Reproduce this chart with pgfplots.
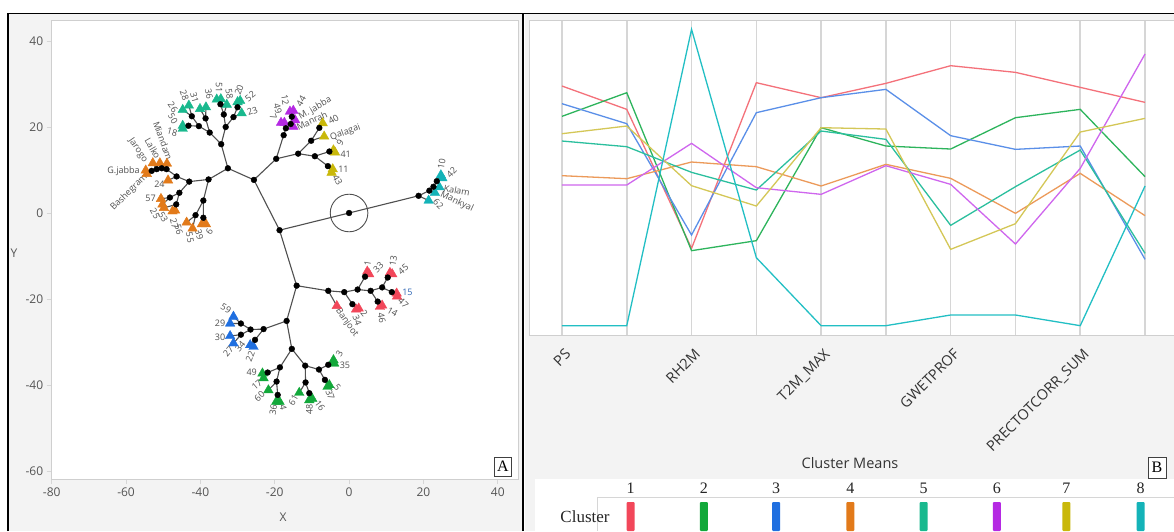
\documentclass[border=0pt]{standalone}
\usepackage{pgfplots}
\pgfplotsset{compat=1.18}
\usepackage{fontspec}
\setmainfont{Open Sans}
\newfontfamily\serif{Liberation Serif}
\definecolor{panelbg}{HTML}{F3F3F3}
\definecolor{framegrey}{HTML}{CFCFCF}
\definecolor{gridgrey}{HTML}{D6D6D6}
\definecolor{tickgrey}{HTML}{555555}
\definecolor{labgrey}{HTML}{505050}
\definecolor{edgegrey}{HTML}{505050}
\definecolor{c1}{HTML}{F2475A}
\definecolor{c2}{HTML}{12A83A}
\definecolor{c3}{HTML}{1F6FE0}
\definecolor{c4}{HTML}{E27A1A}
\definecolor{c5}{HTML}{19B98E}
\definecolor{c6}{HTML}{B529E3}
\definecolor{c7}{HTML}{C9B80A}
\definecolor{c8}{HTML}{14B3B8}
\definecolor{l1}{HTML}{F4717A}
\definecolor{l2}{HTML}{2DB45C}
\definecolor{l3}{HTML}{5A8FE8}
\definecolor{l4}{HTML}{EC9A5A}
\definecolor{l5}{HTML}{2BBF9E}
\definecolor{l6}{HTML}{CF66EE}
\definecolor{l7}{HTML}{D4C757}
\definecolor{l8}{HTML}{22BFC4}
\tikzset{lbl/.style={font=\fontsize{9}{10}\selectfont, text=labgrey, inner sep=0pt}}
\begin{document}
\begin{tikzpicture}[x=1pt,y=1pt]
\path[use as bounding box] (0,0) rectangle (1174,531);
\clip (0,0) rectangle (1174,531);
\fill[white] (0,0) rectangle (1174,531);
\fill[panelbg] (9,0) rectangle (522,517);
\fill[panelbg] (525,0) rectangle (1174,517);
\draw[black, line width=1.3pt] (8,0) -- (8,517.5) -- (1174,517.5);
\draw[black, line width=2pt] (523.3,0) -- (523.3,517.5);

% ---------------- Panel A ----------------
\begin{axis}[at={(51.7pt,52pt)}, anchor=south west, scale only axis,
  width=466.3pt, height=458.3pt,
  xmin=-80, xmax=45.45, ymin=-61.86, ymax=44.72,
  xtick={-80,-60,...,40}, ytick={-60,-40,...,40},
  tick pos=left, tick align=outside, major tick length=5pt,
  tick style={gridgrey, line width=0.8pt},
  axis line style={framegrey, line width=1pt},
  axis background/.style={fill=white},
  ticklabel style={font=\fontsize{12}{14}\selectfont, text=tickgrey},
  /pgf/number format/assume math mode=true,
  clip=false]
\addplot[edgegrey, line width=1.1pt, unbounded coords=jump, mark=none] coordinates {
(0,0) (18.7,4.0) (nan,nan) (18.7,4.0) (21.6,5.2) (nan,nan) (21.6,5.2) (22.7,6.1) (nan,nan)
(22.7,6.1) (23.6,7.4) (nan,nan) (23.6,7.4) (24.7,8.8) (nan,nan) (23.6,7.4) (25.1,8.1) (nan,nan)
(22.7,6.1) (24.3,6.0) (nan,nan) (21.6,5.2) (23.1,4.7) (nan,nan) (18.7,4.0) (21.4,2.9) (nan,nan)
(0,0) (-18.7,-4.0) (nan,nan) (-18.7,-4.0) (-25.6,7.7) (nan,nan) (-18.7,-4.0) (-14.1,-16.9) (nan,nan)
(-25.6,7.7) (-32.6,10.4) (nan,nan) (-25.6,7.7) (-19.6,12.6) (nan,nan)
(-32.6,10.4) (-34.4,16.0) (nan,nan) (-32.6,10.4) (-37.8,7.8) (nan,nan)
(-34.4,16.0) (-37.5,18.7) (nan,nan) (-34.4,16.0) (-33.2,20.0) (nan,nan)
(-37.5,18.7) (-40.4,20.2) (nan,nan) (-37.5,18.7) (-38.6,22.0) (nan,nan)
(-40.4,20.2) (-43.2,20.3) (nan,nan) (-40.4,20.2) (-42.3,22.5) (nan,nan)
(-43.2,20.3) (-44.75,20.3) (nan,nan) (-43.2,20.3) (-44.75,19.6) (nan,nan)
(-42.3,22.5) (-44.75,24.0) (nan,nan) (-42.3,22.5) (-43.1,25.0) (nan,nan)
(-38.6,22.0) (-40.1,24.2) (nan,nan) (-38.6,22.0) (-38.5,24.6) (nan,nan)
(-33.2,20.0) (-33.7,22.9) (nan,nan) (-33.2,20.0) (-31.1,22.3) (nan,nan)
(-33.7,22.9) (-34.6,25.3) (nan,nan) (-34.6,25.3) (-35.6,26.4) (nan,nan) (-34.6,25.3) (-34.5,26.5) (nan,nan)
(-33.7,22.9) (-32.9,25.2) (nan,nan) (-31.1,22.3) (-30.0,24.6) (nan,nan) (-30.0,24.6) (-30.0,25.8) (nan,nan)
(-30.0,24.6) (-29.3,26.1) (nan,nan) (-31.1,22.3) (-28.9,23.2) (nan,nan)
(-37.8,7.8) (-43.0,7.3) (nan,nan) (-37.8,7.8) (-39.2,2.9) (nan,nan)
(-43.0,7.3) (-46.4,8.5) (-49.1,10.2) (-50.4,10.4) (-51.75,10.2) (-53.1,9.8) (nan,nan)
(-49.1,10.2) (-49.0,11.5) (nan,nan) (-50.4,10.4) (-50.9,11.6) (nan,nan) (-51.75,10.2) (-52.8,11.6) (nan,nan)
(-53.1,9.8) (-54.7,9.9) (nan,nan) (-53.1,9.8) (-54.4,9.1) (nan,nan) (-46.4,8.5) (-48.7,7.6) (nan,nan)
(-43.0,7.3) (-45.65,4.7) (nan,nan) (-45.65,4.7) (-48.2,3.6) (nan,nan) (-48.2,3.6) (-50.6,3.3) (nan,nan)
(-48.2,3.6) (-50.2,2.0) (nan,nan) (-45.65,4.7) (-46.5,2.0) (nan,nan) (-46.5,2.0) (-49.8,1.2) (nan,nan)
(-46.5,2.0) (-47.5,0.4) (nan,nan) (-46.5,2.0) (-46.8,0.6) (nan,nan)
(-39.2,2.9) (-41.3,-0.5) (nan,nan) (-41.3,-0.5) (-43.7,-2.2) (nan,nan) (-41.3,-0.5) (-42.1,-3.6) (nan,nan)
(-39.2,2.9) (-39.2,-1.1) (nan,nan) (-39.2,-1.1) (-39.6,-2.6) (nan,nan) (-39.2,-1.1) (-38.5,-2.6) (nan,nan)
(-19.6,12.6) (-17.6,18.1) (nan,nan) (-17.6,18.1) (-17.0,19.7) (nan,nan) (-17.0,19.7) (-18.3,21.0) (nan,nan)
(-17.0,19.7) (-17.4,21.0) (nan,nan) (-17.0,19.7) (-15.7,20.7) (nan,nan) (-15.7,20.7) (-15.4,22.4) (nan,nan)
(-15.4,22.4) (-15.9,23.6) (nan,nan) (-15.4,22.4) (-15.0,23.8) (nan,nan) (-15.7,20.7) (-14.5,21.6) (nan,nan)
(-15.7,20.7) (-15.0,20.1) (nan,nan)
(-19.6,12.6) (-13.7,13.8) (nan,nan) (-13.7,13.8) (-10.2,16.8) (nan,nan) (-10.2,16.8) (-8.0,19.8) (nan,nan)
(-8.0,19.8) (-7.1,20.9) (nan,nan) (-10.2,16.8) (-6.7,17.8) (nan,nan) (-13.7,13.8) (-9.2,13.2) (nan,nan)
(-9.2,13.2) (-5.3,14.3) (nan,nan) (-5.3,14.3) (-4.2,14.6) (nan,nan) (-5.3,14.3) (-3.8,14.1) (nan,nan)
(-9.2,13.2) (-5.7,10.9) (nan,nan) (-5.7,10.9) (-4.4,10.2) (nan,nan) (-5.7,10.9) (-4.7,9.4) (nan,nan)
(-14.1,-16.9) (-5.6,-18.1) (nan,nan) (-5.6,-18.1) (-3.3,-21.6) (nan,nan) (-5.6,-18.1) (-1.3,-18.4) (nan,nan)
(-1.3,-18.4) (0.9,-21.2) (nan,nan) (0.9,-21.2) (1.9,-22.4) (nan,nan) (0.9,-21.2) (2.6,-22.2) (nan,nan)
(-1.3,-18.4) (2.3,-17.8) (nan,nan) (2.3,-17.8) (4.3,-14.8) (nan,nan) (4.3,-14.8) (4.9,-13.6) (nan,nan)
(4.3,-14.8) (5.4,-14.2) (nan,nan) (2.3,-17.8) (5.8,-18.1) (nan,nan) (5.8,-18.1) (7.7,-20.6) (nan,nan)
(7.7,-20.6) (8.3,-21.8) (nan,nan) (7.7,-20.6) (8.9,-21.5) (nan,nan) (5.8,-18.1) (8.9,-17.3) (nan,nan)
(8.9,-17.3) (10.4,-15.0) (nan,nan) (10.4,-15.0) (11.0,-13.9) (nan,nan) (10.4,-15.0) (11.6,-14.2) (nan,nan)
(8.9,-17.3) (11.5,-18.4) (nan,nan) (11.5,-18.4) (12.8,-18.7) (nan,nan) (11.5,-18.4) (12.9,-19.4) (nan,nan)
(-14.1,-16.9) (-16.8,-25.1) (nan,nan) (-16.8,-25.1) (-23.0,-27.0) (nan,nan) (-23.0,-27.0) (-26.5,-27.1) (nan,nan)
(-26.5,-27.1) (-29.1,-25.7) (nan,nan) (-29.1,-25.7) (-31.1,-24.1) (nan,nan) (-29.1,-25.7) (-32.0,-25.7) (nan,nan)
(-26.5,-27.1) (-29.1,-28.3) (nan,nan) (-29.1,-28.3) (-32.0,-28.6) (nan,nan) (-29.1,-28.3) (-31.1,-30.3) (nan,nan)
(-23.0,-27.0) (-25.3,-29.5) (nan,nan) (-25.3,-29.5) (-26.6,-30.7) (nan,nan) (-25.3,-29.5) (-25.7,-31.1) (nan,nan)
(-16.8,-25.1) (-15.4,-31.6) (nan,nan) (-15.4,-31.6) (-18.6,-35.9) (nan,nan) (-18.6,-35.9) (-21.9,-37.1) (nan,nan)
(-21.9,-37.1) (-23.3,-37.3) (nan,nan) (-21.9,-37.1) (-23.0,-38.4) (nan,nan) (-18.6,-35.9) (-19.5,-39.2) (nan,nan)
(-19.5,-39.2) (-21.7,-41.2) (nan,nan) (-19.5,-39.2) (-19.2,-42.3) (nan,nan) (-19.2,-42.3) (-19.6,-43.9) (nan,nan)
(-19.2,-42.3) (-18.7,-43.9) (nan,nan)
(-15.4,-31.6) (-11.8,-35.5) (nan,nan) (-11.8,-35.5) (-11.7,-39.4) (nan,nan) (-11.7,-39.4) (-13.4,-41.8) (nan,nan)
(-11.7,-39.4) (-10.7,-41.9) (nan,nan) (-10.7,-41.9) (-10.7,-43.5) (nan,nan) (-10.7,-41.9) (-9.9,-43.2) (nan,nan)
(-11.8,-35.5) (-8.1,-36.4) (nan,nan) (-8.1,-36.4) (-5.6,-35.3) (nan,nan) (-5.6,-35.3) (-4.2,-34.2) (nan,nan)
(-5.6,-35.3) (-4.0,-35.0) (nan,nan) (-8.1,-36.4) (-6.5,-38.8) (nan,nan) (-6.5,-38.8) (-5.3,-40.0) (nan,nan)
(-6.5,-38.8) (-5.8,-40.4)
};
% leaves
\addplot[only marks, mark=triangle*, mark size=5.5pt, color=c1] coordinates {
(-3.3,-21.6) (1.9,-22.4) (2.6,-22.2) (4.9,-13.6) (5.4,-14.2) (11.0,-13.9) (11.6,-14.2) (12.8,-18.7) (12.9,-19.4) (8.3,-21.8) (8.9,-21.5)};
\addplot[only marks, mark=triangle*, mark size=5.5pt, color=c2] coordinates {
(-4.2,-34.2) (-4.0,-35.0) (-5.3,-40.0) (-5.8,-40.4) (-10.7,-43.5) (-9.9,-43.2) (-13.4,-41.8) (-19.6,-43.9) (-18.7,-43.9) (-21.7,-41.2) (-23.3,-37.3) (-23.0,-38.4)};
\addplot[only marks, mark=triangle*, mark size=5.5pt, color=c3] coordinates {
(-31.1,-24.1) (-32.0,-25.7) (-32.0,-28.6) (-31.1,-30.3) (-26.6,-30.7) (-25.7,-31.1)};
\addplot[only marks, mark=triangle*, mark size=5.5pt, color=c4] coordinates {
(-54.4,9.1) (-54.7,9.9) (-52.8,11.6) (-50.9,11.6) (-49.0,11.5) (-48.7,7.6) (-50.6,3.3) (-50.2,2.0) (-49.8,1.2) (-47.5,0.4) (-46.8,0.6) (-43.7,-2.2) (-42.1,-3.6) (-39.6,-2.6) (-38.5,-2.6)};
\addplot[only marks, mark=triangle*, mark size=5.5pt, color=c5] coordinates {
(-44.75,24.0) (-43.1,25.0) (-40.1,24.2) (-38.5,24.6) (-44.75,20.3) (-44.75,19.6) (-35.6,26.4) (-34.5,26.5) (-32.9,25.2) (-30.0,25.8) (-29.3,26.1) (-28.9,23.2)};
\addplot[only marks, mark=triangle*, mark size=5.5pt, color=c6] coordinates {
(-18.3,21.0) (-17.4,21.0) (-15.9,23.6) (-15.0,23.8) (-14.5,21.6) (-15.0,20.1)};
\addplot[only marks, mark=triangle*, mark size=5.5pt, color=c7] coordinates {
(-7.1,20.9) (-6.7,17.8) (-4.2,14.6) (-3.8,14.1) (-4.4,10.2) (-4.7,9.4)};
\addplot[only marks, mark=triangle*, mark size=5.5pt, color=c8] coordinates {
(24.7,8.8) (25.1,8.1) (24.3,6.0) (23.1,4.7) (21.4,2.9)};
% internal nodes
\addplot[only marks, mark=*, mark size=2.9pt, color=black] coordinates {
(0,0) (18.7,4.0) (21.6,5.2) (22.7,6.1) (23.6,7.4)
(-18.7,-4.0) (-25.6,7.7) (-14.1,-16.9) (-32.6,10.4) (-19.6,12.6) (-34.4,16.0) (-37.8,7.8)
(-37.5,18.7) (-33.2,20.0) (-40.4,20.2) (-38.6,22.0) (-43.2,20.3) (-42.3,22.5) (-33.7,22.9) (-34.6,25.3) (-30.0,24.6) (-31.1,22.3)
(-43.0,7.3) (-39.2,2.9) (-46.4,8.5) (-49.1,10.2) (-50.4,10.4) (-51.75,10.2) (-53.1,9.8)
(-45.65,4.7) (-48.2,3.6) (-46.5,2.0) (-41.3,-0.5) (-39.2,-1.1)
(-17.6,18.1) (-17.0,19.7) (-15.7,20.7) (-15.4,22.4)
(-13.7,13.8) (-10.2,16.8) (-8.0,19.8) (-9.2,13.2) (-5.3,14.3) (-5.7,10.9)
(-5.6,-18.1) (-1.3,-18.4) (2.3,-17.8) (5.8,-18.1) (8.9,-17.3) (11.5,-18.4) (0.9,-21.2) (4.3,-14.8) (7.7,-20.6) (10.4,-15.0)
(-16.8,-25.1) (-23.0,-27.0) (-26.5,-27.1) (-29.1,-25.7) (-29.1,-28.3) (-25.3,-29.5)
(-15.4,-31.6) (-18.6,-35.9) (-11.8,-35.5) (-21.9,-37.1) (-19.5,-39.2) (-19.2,-42.3) (-11.7,-39.4) (-10.7,-41.9) (-8.1,-36.4) (-5.6,-35.3) (-6.5,-38.8)};
\addplot[only marks, mark=o, mark size=18.8pt, color=edgegrey, mark options={line width=0.9pt}] coordinates {(0,0)};
% labels
\node[lbl, rotate=-55] at (axis cs:-47.4,24.6) {26};
\node[lbl, rotate=-60] at (axis cs:-47.4,21.9) {50};
\node[lbl, rotate=-15] at (axis cs:-47.6,18.8) {18};
\node[lbl, rotate=-70] at (axis cs:-44.3,27.3) {28};
\node[lbl, rotate=-75] at (axis cs:-41.6,26.9) {31};
\node[lbl, rotate=-80] at (axis cs:-37.7,27.7) {36};
\node[lbl, rotate=-90] at (axis cs:-35.0,29.2) {51};
\node[lbl, rotate=-80] at (axis cs:-32.2,27.7) {58};
\node[lbl, rotate=70] at (axis cs:-29.6,28.6) {20};
\node[lbl, rotate=40] at (axis cs:-26.6,27.1) {52};
\node[lbl, rotate=20] at (axis cs:-26.0,23.7) {23};
\node[lbl, rotate=-80] at (axis cs:-17.2,26.3) {12};
\node[lbl, rotate=-75] at (axis cs:-19.2,24.2) {49};
\node[lbl, rotate=-70] at (axis cs:-20.4,22.4) {7};
\node[lbl, rotate=60] at (axis cs:-12.9,26.0) {44};
\node[lbl, rotate=30] at (axis cs:-9.1,24.3) {M. jabba};
\node[lbl, rotate=25] at (axis cs:-10.0,21.5) {Manrah};
\node[lbl, rotate=30] at (axis cs:-4.2,21.8) {40};
\node[lbl, rotate=20] at (axis cs:-1.0,18.7) {Qalagai};
\node[lbl, rotate=60] at (axis cs:-2.4,16.4) {9};
\node[lbl] at (axis cs:-0.9,13.7) {41};
\node[lbl] at (axis cs:-1.5,10.2) {11};
\node[lbl, rotate=-60] at (axis cs:-3.1,7.7) {43};
\node[lbl, rotate=80] at (axis cs:24.9,11.5) {10};
\node[lbl, rotate=45] at (axis cs:27.6,9.5) {42};
\node[lbl, rotate=-10] at (axis cs:29.0,5.2) {Kalam};
\node[lbl, rotate=-25] at (axis cs:29.0,2.6) {Mankyal};
\node[lbl, rotate=-45] at (axis cs:24.0,2.1) {62};
\node[lbl] at (axis cs:-60.7,9.8) {G.jabba};
\node[lbl, rotate=45] at (axis cs:-59.2,4.8) {Bashegram};
\node[lbl, rotate=-55] at (axis cs:-56.8,14.5) {Jarogo};
\node[lbl, rotate=-60] at (axis cs:-52.8,15.0) {Lalko};
\node[lbl, rotate=-70] at (axis cs:-50.1,16.8) {Miandam};
\node[lbl] at (axis cs:-51.0,6.8) {24};
\node[lbl] at (axis cs:-53.4,3.3) {57};
\node[lbl, rotate=-60] at (axis cs:-52.2,-0.1) {25};
\node[lbl, rotate=-60] at (axis cs:-50.0,-0.9) {53};
\node[lbl, rotate=-75] at (axis cs:-47.0,-2.4) {27};
\node[lbl, rotate=-75] at (axis cs:-45.8,-3.8) {56};
\node[lbl, rotate=-80] at (axis cs:-42.8,-5.7) {55};
\node[lbl, rotate=-75] at (axis cs:-40.3,-5.1) {39};
\node[lbl, rotate=60] at (axis cs:-37.6,-4.3) {6};
\node[lbl, rotate=80] at (axis cs:5.0,-11.7) {1};
\node[lbl, rotate=45] at (axis cs:7.9,-12.7) {33};
\node[lbl, rotate=80] at (axis cs:11.9,-11.1) {13};
\node[lbl, rotate=40] at (axis cs:14.6,-13.1) {45};
\node[lbl, text=c3!70!labgrey] at (axis cs:15.7,-18.4) {15};
\node[lbl, rotate=-45] at (axis cs:14.6,-21.0) {47};
\node[lbl, rotate=-30] at (axis cs:11.7,-23.0) {14};
\node[lbl, rotate=-80] at (axis cs:8.8,-24.5) {46};
\node[lbl, rotate=-50] at (axis cs:4.1,-23.3) {2};
\node[lbl, rotate=-70] at (axis cs:2.2,-24.9) {34};
\node[lbl, rotate=-55] at (axis cs:-0.6,-25.5) {Banjoot};
\node[lbl, rotate=-30] at (axis cs:-33.1,-22.2) {59};
\node[lbl] at (axis cs:-34.7,-25.7) {29};
\node[lbl] at (axis cs:-34.7,-28.8) {30};
\node[lbl, rotate=50] at (axis cs:-32.5,-32.2) {27};
\node[lbl, rotate=50] at (axis cs:-29.3,-31.1) {34};
\node[lbl, rotate=70] at (axis cs:-26.6,-33.3) {22};
\node[lbl] at (axis cs:-26.2,-37.1) {49};
\node[lbl, rotate=40] at (axis cs:-24.8,-40.0) {17};
\node[lbl, rotate=45] at (axis cs:-24.1,-42.7) {60};
\node[lbl, rotate=80] at (axis cs:-20.4,-45.8) {36};
\node[lbl, rotate=-80] at (axis cs:-17.7,-45.2) {4};
\node[lbl, rotate=60] at (axis cs:-15.0,-43.5) {61};
\node[lbl, rotate=90] at (axis cs:-10.7,-45.7) {48};
\node[lbl, rotate=-55] at (axis cs:-7.8,-44.9) {16};
\node[lbl, rotate=60] at (axis cs:-2.6,-32.8) {3};
\node[lbl] at (axis cs:-1.1,-35.3) {35};
\node[lbl, rotate=-50] at (axis cs:-3.1,-40.5) {5};
\node[lbl, rotate=-70] at (axis cs:-5.1,-42.3) {37};
\end{axis}
\node[font=\fontsize{12}{14}\selectfont, text=tickgrey] at (283,14) {X};
\node[font=\fontsize{12}{14}\selectfont, text=tickgrey] at (14,278) {Y};
\node[draw=black!75, fill=white, line width=0.9pt, font=\serif\fontsize{16}{16}\selectfont, inner sep=0pt, minimum width=17pt, minimum height=19pt] at (503,64.5) {A};

% ---------------- Panel B ----------------
\begin{axis}[at={(529pt,196pt)}, anchor=south west, scale only axis,
  width=651pt, height=314.3pt,
  xmin=-0.509, xmax=9.54, ymin=0, ymax=94.3,
  xtick={0,...,9},
  xticklabels={PS,,RH2M,,T2M\_MAX,,GWETPROF,,PRECTOTCORR\_SUM,},
  ytick=\empty, xmajorgrids,
  major grid style={gridgrey, line width=1.6pt},
  major tick length=0pt,
  axis line style={framegrey, line width=1pt},
  axis background/.style={fill=white},
  xticklabel style={rotate=45, anchor=north east, font=\fontsize{14.5}{16}\selectfont, text=black!80, xshift=-4pt, yshift=-7pt},
  every axis plot/.append style={line width=1.3pt, mark=none}]
\addplot[l1] coordinates {(0,74.7) (1,67.7) (2,26.0) (3,75.7) (4,71.2) (5,75.5) (6,80.8) (7,78.8) (8,74.3) (9,69.8)};
\addplot[l2] coordinates {(0,65.6) (1,72.7) (2,25.3) (3,28.3) (4,62.2) (5,56.7) (6,55.8) (7,65.2) (8,67.7) (9,47.5)};
\addplot[l3] coordinates {(0,69.4) (1,63.4) (2,30.0) (3,66.7) (4,71.2) (5,73.7) (6,59.8) (7,55.7) (8,56.7) (9,22.7)};
\addplot[l4] coordinates {(0,47.8) (1,46.9) (2,51.9) (3,50.5) (4,44.7) (5,51.2) (6,47.0) (7,36.5) (8,48.5) (9,35.8)};
\addplot[l5] coordinates {(0,58.2) (1,56.5) (2,48.8) (3,43.5) (4,61.2) (5,58.7) (6,32.9) (7,44.5) (8,55.5) (9,24.5)};
\addplot[l6] coordinates {(0,45.0) (1,45.0) (2,57.5) (3,44.2) (4,42.2) (5,50.8) (6,45.2) (7,27.3) (8,50.0) (9,84.3)};
\addplot[l7] coordinates {(0,60.4) (1,62.7) (2,44.8) (3,38.7) (4,62.2) (5,61.8) (6,25.7) (7,33.4) (8,60.9) (9,65.0)};
\addplot[l8] coordinates {(0,2.8) (1,2.8) (2,91.7) (3,23.2) (4,2.8) (5,2.8) (6,6.0) (7,6.0) (8,2.8) (9,44.7)};
\end{axis}

\node[font=\fontsize{14.5}{16}\selectfont, text=black!80] at (850,68) {Cluster Means};
\node[draw=black!75, fill=white, line width=0.9pt, font=\serif\fontsize{16}{16}\selectfont, inner sep=0pt, minimum width=18pt, minimum height=21pt] at (1157,63.5) {B};
\fill[white] (535,0) rectangle (1174,52);
\draw[gridgrey, line width=0.8pt] (597,34) -- (1174,34);
\draw[gridgrey, line width=0.8pt] (597,34) -- (597,0);
\node[font=\serif\fontsize{17}{17}\selectfont, text=black!85] at (585,14) {Cluster};
\foreach \xx/\nn/\cc in {630.5/1/c1, 703.8/2/c2, 776.2/3/c3, 850.3/4/c4, 923.6/5/c5, 996.9/6/c6, 1066.4/7/c7, 1140.5/8/c8} {
  \node[font=\serif\fontsize{16}{16}\selectfont, text=black!85] at (\xx,43) {\nn};
  \fill[\cc, rounded corners=1pt] (\xx-4,0) rectangle (\xx+4,29);
}
\end{tikzpicture}
\end{document}
